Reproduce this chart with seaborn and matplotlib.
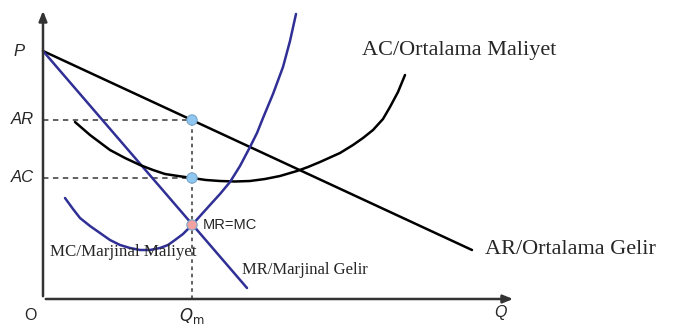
import numpy as np
import pandas as pd
import seaborn as sns
import matplotlib.pyplot as plt

# key levels on the diagram
p_max = 24.8
q_m = 14.9
ar_level = 17.9
ac_level = 12.1
mr_mc_level = 7.4

# AR / MR straight lines (end points)
ar_q = [0, 42.9]
ar_p = [24.8, 4.9]
mr_q = [0, 20.4]
mr_p = [24.8, 1.1]

# MC curve
mc_q = [2.2, 3.0, 3.7, 4.7, 5.7, 6.7, 7.7, 8.7, 9.7, 10.7, 11.7, 12.5, 13.2, 14.0,
        14.9, 15.8, 16.7, 17.7, 18.7, 19.7, 20.7, 21.4, 22.0, 23.0, 24.0, 24.7, 25.3]
mc_c = [10.1, 9.0, 8.1, 7.3, 6.6, 5.9, 5.4, 5.1, 4.9, 4.9, 5.1, 5.4, 5.9, 6.5,
        7.4, 8.4, 9.4, 10.5, 11.7, 13.3, 15.2, 16.6, 18.1, 20.5, 23.2, 25.8, 28.5]

# AC curve
ac_q = [3.2, 4.7, 6.7, 8.2, 9.7, 11.0, 12.2, 13.5, 14.9, 16.3, 17.7, 19.2, 20.7, 22.2,
        23.7, 25.4, 26.5, 27.7, 29.7, 31.0, 32.0, 33.0, 34.0, 34.7, 35.5, 36.2]
ac_c = [17.7, 16.4, 14.9, 14.1, 13.4, 12.9, 12.5, 12.3, 12.1, 11.9, 11.8, 11.75, 11.8, 12.0,
        12.3, 12.8, 13.2, 13.7, 14.6, 15.4, 16.1, 16.9, 18.0, 19.2, 20.7, 22.4]

sns.set_theme(style="white")
fig = plt.figure(figsize=(6.82, 3.29), dpi=100)
ax = fig.add_axes([0, 0, 1, 1])
ax.set_xlim(-4.3, 63.9)
ax.set_ylim(-3.0, 29.9)
ax.axis("off")

blue = "#2f2f96"

# dashed guide lines
ax.plot([0, q_m], [ar_level, ar_level], ls=(0, (3, 2.5)), color="#555555", lw=1.3)
ax.plot([0, q_m], [ac_level, ac_level], ls=(0, (3, 2.5)), color="#555555", lw=1.3)
ax.plot([q_m, q_m], [0, ar_level], ls=(0, (2, 2)), color="#555555", lw=1.3)

# curves
sns.lineplot(x=ar_q, y=ar_p, color="black", lw=1.8, ax=ax)
sns.lineplot(x=mr_q, y=mr_p, color=blue, lw=1.8, ax=ax)
sns.lineplot(x=ac_q, y=ac_c, color="black", lw=1.8, sort=False, ax=ax)
sns.lineplot(x=mc_q, y=mc_c, color=blue, lw=1.8, sort=False, ax=ax)

# equilibrium points
pts = pd.DataFrame({"q": [q_m, q_m, q_m],
                    "v": [ar_level, ac_level, mr_mc_level],
                    "kind": ["ar", "ac", "eq"]})
sns.scatterplot(data=pts, x="q", y="v", hue="kind",
                palette={"ar": "#8ec8f0", "ac": "#8ec8f0", "eq": "#f2a0a0"},
                s=55, edgecolor="#7aa6c8", linewidth=0.8, legend=False, zorder=5, ax=ax)

# axes with arrows
ax.annotate("", xy=(0, 29.1), xytext=(0, 0),
            arrowprops=dict(arrowstyle="-|>,head_length=0.5,head_width=0.2", color="#333333", lw=1.8))
ax.annotate("", xy=(47.3, 0), xytext=(0, 0),
            arrowprops=dict(arrowstyle="-|>,head_length=0.5,head_width=0.2", color="#333333", lw=1.8))

# axis labels
sans = "Liberation Sans"
ax.text(-1.8, p_max, "P", ha="right", va="center", fontsize=12, style="italic", family=sans)
ax.text(-0.9, ar_level, "AR", ha="right", va="center", fontsize=12, style="italic", family=sans)
ax.text(-0.9, ac_level, "AC", ha="right", va="center", fontsize=12, style="italic", family=sans)
ax.text(-1.3, -1.6, "O", ha="center", va="center", fontsize=11.5, family=sans)
ax.text(q_m, -1.7, "$\\mathit{Q}_{\\mathrm{m}}$", ha="center", va="center", fontsize=12)
ax.text(45.7, -1.4, "Q", ha="center", va="center", fontsize=11.5, style="italic", family=sans)
ax.text(16.0, mr_mc_level, "MR=MC", ha="left", va="center", fontsize=10.5, family=sans)

# curve names
serif = "Liberation Serif"
ax.text(0.7, 4.7, "MC/Marjinal Maliyet", ha="left", va="center", fontsize=12.2, family=serif)
ax.text(19.9, 2.9, "MR/Marjinal Gelir", ha="left", va="center", fontsize=12, family=serif)
ax.text(31.9, 24.9, "AC/Ortalama Maliyet", ha="left", va="center", fontsize=16, family=serif)
ax.text(44.2, 4.9, "AR/Ortalama Gelir", ha="left", va="center", fontsize=16, family=serif)

fig.savefig("out.png", dpi=100)
